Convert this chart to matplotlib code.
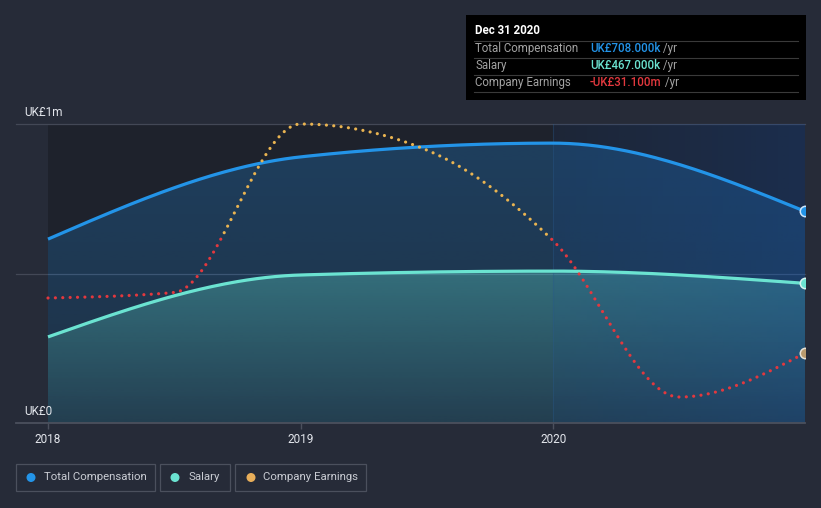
import numpy as np
import matplotlib
matplotlib.use('Agg')
import matplotlib.pyplot as plt
from matplotlib.patches import Rectangle, Ellipse
from matplotlib.text import Annotation

plt.rcParams['font.family'] = ['Roboto', 'DejaVu Sans']

# ---------------- data ----------------
comp_years = [2018.0, 2019.0, 2020.0, 2020.997]
total_comp = [0.615, 0.890, 0.936, 0.708]          # UK£m
salary = [0.288, 0.495, 0.508, 0.467]              # UK£m
earn_years = [2018.0, 2018.5, 2019.0, 2019.5, 2020.0, 2020.5, 2020.997]
earnings = [-16.35, -14.87, 30.3, 23.3, -1.0, -42.9, -31.1]   # UK£m
tick_years = [2018, 2019, 2020]
tick_labels = ['2018', '2019', '2020']
y_tick_vals = [0.0, 1.0]
y_tick_labels = ['UK£0', 'UK£1m']
legend_labels = ['Total Compensation', 'Salary', 'Company Earnings']
tooltip_title = 'Dec 31 2020'
tooltip_labels = ['Total Compensation', 'Salary', 'Company Earnings']
tooltip_values = ['UK£708.000k', 'UK£467.000k', '-UK£31.100m']

# ---------------- style ----------------
BG = '#262b38'
INNER = '#1e222c'
BLUE = '#2394e8'
TEAL = '#6be3d1'
ORANGE = '#eab451'
RED = '#e3383e'
GRID = '#434856'
TXT = '#e3e6ec'

W, H = 821, 508


def fx(x):
    return x / W


def fy(y):
    return 1 - y / H


def monotone_x(xs, ys, n=80):
    xs = np.asarray(xs, float)
    ys = np.asarray(ys, float)
    h = np.diff(xs)
    s = np.diff(ys) / h
    m = np.zeros_like(ys)
    for i in range(1, len(xs) - 1):
        p = (s[i - 1] * h[i] + s[i] * h[i - 1]) / (h[i - 1] + h[i])
        m[i] = (np.sign(s[i - 1]) + np.sign(s[i])) * min(abs(s[i - 1]), abs(s[i]), 0.5 * abs(p))
    m[0] = (3 * s[0] - m[1]) / 2
    m[-1] = (3 * s[-1] - m[-2]) / 2
    X, Y = [], []
    for i in range(len(xs) - 1):
        t = np.linspace(0, 1, n, endpoint=(i == len(xs) - 2))
        h00 = 2 * t**3 - 3 * t**2 + 1
        h10 = t**3 - 2 * t**2 + t
        h01 = -2 * t**3 + 3 * t**2
        h11 = t**3 - t**2
        X.append(xs[i] + t * h[i])
        Y.append(h00 * ys[i] + h10 * h[i] * m[i] + h01 * ys[i + 1] + h11 * h[i] * m[i + 1])
    return np.concatenate(X), np.concatenate(Y)


fig = plt.figure(figsize=(W / 100, H / 100), dpi=100, facecolor=BG)

ax = fig.add_axes([fx(16), fy(423), (805 - 16) / W, (423 - 124) / H])
ax.set_facecolor('none')
for sp in ax.spines.values():
    sp.set_visible(False)

px_per_year = (805 - 48) / (comp_years[-1] - comp_years[0])
x_left = comp_years[0] - 32 / px_per_year
x_right = comp_years[-1]

# inner background
ax.add_patch(Rectangle((comp_years[0], 0), x_right - comp_years[0], 1,
                       fc=INNER, ec='none', zorder=0))


def grad_fill(xc, yc, rgb, a_top, a_bot, z):
    poly = ax.fill_between(xc, 0, yc, facecolor='none', edgecolor='none')
    path = poly.get_paths()[0]
    n = 256
    arr = np.zeros((n, 1, 4))
    arr[..., 0], arr[..., 1], arr[..., 2] = rgb
    arr[:, 0, 3] = np.linspace(a_bot, a_top, n)
    ytop = float(np.max(yc))
    im = ax.imshow(arr, extent=[xc[0], xc[-1], 0, ytop], origin='lower',
                   aspect='auto', zorder=z, interpolation='bilinear')
    im.set_clip_path(path, transform=ax.transData)


tx, ty = monotone_x(comp_years, total_comp)
sx, sy = monotone_x(comp_years, salary)
ex, ey = monotone_x(earn_years, earnings)

grad_fill(tx, ty, (33 / 255, 150 / 255, 243 / 255), 0.25, 0.13, 1)
grad_fill(sx, sy, (100 / 255, 228 / 255, 212 / 255), 0.32, 0.08, 2)

# highlighted right region (overlay)
ov = np.zeros((1, 256, 4))
ov[..., 0], ov[..., 1], ov[..., 2] = 20 / 255, 78 / 255, 168 / 255
ov[0, :, 3] = np.linspace(0.09, 0.27, 256)
ax.imshow(ov, extent=[2020.0, x_right, 0, 1], origin='lower', aspect='auto',
          zorder=3, interpolation='bilinear')
ax.axvline(2020.0, color='#2a5a8a', lw=0.8, alpha=0.35, zorder=3)

# grid lines
for v in [0.5, 1.0]:
    ax.axhline(v, color=GRID, lw=0.9, zorder=0.5, clip_on=False)
ax.axhline(0.0, color='#4b505d', lw=1.3, zorder=7, clip_on=False)

# lines
ax.plot(tx, ty, color=BLUE, lw=2.3, zorder=5, solid_capstyle='butt')
ax.plot(sx, sy, color=TEAL, lw=2.3, zorder=5, solid_capstyle='butt')
ax.plot([comp_years[-1]], [total_comp[-1]], 'o', ms=7.5, mfc=BLUE, mec='#cfe6fb', mew=1.1, zorder=6)
ax.plot([comp_years[-1]], [salary[-1]], 'o', ms=7.5, mfc=TEAL, mec='#d8f5f0', mew=1.1, zorder=6)

ax.set_xlim(x_left, x_right)
ax.set_ylim(0, 1)
ax.set_yticks([])
ax.set_xticks(tick_years, tick_labels)
ax.tick_params(axis='x', colors='#4b505d', length=4, width=1, labelcolor=TXT,
               labelsize=8.5, pad=3)

for v, lab in zip(y_tick_vals, y_tick_labels):
    ax.annotate(lab, xy=(0, v), xycoords=('axes fraction', 'data'), xytext=(8, 5),
                textcoords='offset pixels', va='bottom', ha='left', color=TXT,
                fontsize=8.5, zorder=8)

# earnings on its own scale
ax2 = ax.twinx()
ax2.set_ylim(-49.86, 30.3)
ax2.set_xlim(x_left, x_right)
ax2.axis('off')
clip_pos = Rectangle((x_left, 0), x_right - x_left, 1000, transform=ax2.transData)
clip_neg = Rectangle((x_left, -1000), x_right - x_left, 1000, transform=ax2.transData)
lp, = ax2.plot(ex, ey, color=ORANGE, lw=2.3, linestyle=(0, (0.01, 2.3)),
               dash_capstyle='round', zorder=5)
lp.set_clip_path(clip_pos)
ln, = ax2.plot(ex, ey, color=RED, lw=2.3, linestyle=(0, (0.01, 2.3)),
               dash_capstyle='round', zorder=5)
ln.set_clip_path(clip_neg)
ax2.plot([earn_years[-1]], [earnings[-1]], 'o', ms=7.5, mfc='#b89a6e', mec='#e8e2d6',
         mew=1.1, zorder=6)

# ---------------- tooltip ----------------
fig.add_artist(Rectangle((fx(466), fy(100)), (806 - 466) / W, (100 - 15) / H,
                         transform=fig.transFigure, fc='#000000', ec='none', zorder=1))
fig.text(fx(475), fy(31), tooltip_title, color='#ffffff', fontsize=8.3,
         fontweight='bold', va='center', ha='left', zorder=3)
for yy in [40.5, 57.5, 74.5, 91.5]:
    fig.add_artist(plt.Line2D([fx(474), fx(798)], [fy(yy), fy(yy)],
                              transform=fig.transFigure, color='#3a3a3a', lw=0.8, zorder=2))
val_colors = [BLUE, TEAL, RED]
for i, (lab, val, c) in enumerate(zip(tooltip_labels, tooltip_values, val_colors)):
    yc = 48.5 + 17 * i
    fig.text(fx(475), fy(yc), lab, color='#a3a3a3', fontsize=8.3, va='center', ha='left', zorder=3)
    t = fig.text(fx(590), fy(yc), val, color=c, fontsize=8.3, fontweight='medium',
                 va='center', ha='left', zorder=3)
    a = Annotation(' /yr', xy=(1, 0.5), xycoords=t, va='center', ha='left',
                   color='#a3a3a3', fontsize=8.3, annotation_clip=False)
    a.set_zorder(3)
    fig.add_artist(a)

# ---------------- legend ----------------
boxes = [(16, 155), (160, 230), (235, 366)]
dot_x = [31, 175, 251]
text_x = [44, 188, 263]
leg_colors = [BLUE, TEAL, '#e8ae5a']
for (x0b, x1b), dx, txx, lab, c in zip(boxes, dot_x, text_x, legend_labels, leg_colors):
    fig.add_artist(Rectangle((fx(x0b), fy(491)), (x1b - x0b) / W, (491 - 464) / H,
                             transform=fig.transFigure, fc='none', ec='#4b505d', lw=0.9))
    fig.add_artist(Ellipse((fx(dx), fy(477.5)), 9 / W, 9 / H, transform=fig.transFigure,
                           fc=c, ec='none'))
    fig.text(fx(txx), fy(477.5), lab, color='#c9ccd3', fontsize=8.2, va='center', ha='left')

fig.savefig('out.png', dpi=100, facecolor=BG)
